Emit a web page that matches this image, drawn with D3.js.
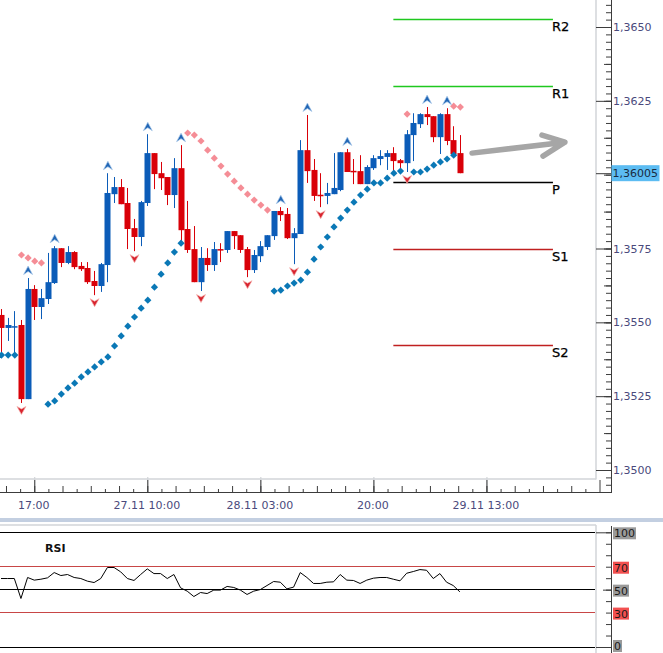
<!DOCTYPE html>
<html><head><meta charset="utf-8">
<script src="https://cdn.jsdelivr.net/npm/d3@7/dist/d3.min.js"></script>
<style>
html,body{margin:0;padding:0;background:#fff;overflow:hidden}
svg{display:block}
text{font-family:"DejaVu Sans",sans-serif}
</style></head><body>
<script>
const opens=[1.35525,1.35481,1.35485,1.35491,1.35240,1.35613,1.35552,1.35579,1.35633,1.35751,
1.35701,1.35738,1.35691,1.35684,1.35640,1.35623,1.35694,1.35934,1.35958,1.35904,
1.35819,1.35789,1.35904,1.36073,1.36005,1.35992,1.35931,1.36022,1.35816,1.35748,
1.35636,1.35718,1.35694,1.35748,1.35745,1.35809,1.35795,1.35748,1.35677,1.35724,
1.35755,1.35792,1.35877,1.35867,1.35785,1.35799,1.36083,1.36016,1.35932,1.35928,
1.35934,1.35948,1.36076,1.36013,1.36012,1.35968,1.36022,1.36053,1.36060,1.36073,
1.36049,1.36039,1.36134,1.36171,1.36205,1.36198,1.36127,1.36205,1.36117,1.36073];
const closes=[1.35481,1.35491,1.35487,1.35240,1.35613,1.35552,1.35582,1.35636,1.35751,1.35701,
1.35738,1.35687,1.35680,1.35636,1.35623,1.35697,1.35938,1.35958,1.35900,1.35816,
1.35789,1.35907,1.36073,1.36002,1.35988,1.35931,1.36022,1.35812,1.35745,1.35636,
1.35718,1.35694,1.35748,1.35745,1.35809,1.35792,1.35745,1.35677,1.35728,1.35758,
1.35795,1.35877,1.35863,1.35785,1.35802,1.36083,1.36012,1.35928,1.35930,1.35938,
1.35955,1.36076,1.36009,1.36011,1.35968,1.36026,1.36056,1.36063,1.36073,1.36046,
1.36039,1.36137,1.36175,1.36205,1.36195,1.36127,1.36205,1.36114,1.36070,1.36005];
const highs=[1.35545,1.35515,1.35538,1.35508,1.35650,1.35626,1.35613,1.35735,1.35758,1.35751,
1.35758,1.35741,1.35704,1.35704,1.35674,1.35701,1.36005,1.35992,1.35985,1.35955,
1.35850,1.35911,1.36137,1.36073,1.36043,1.35992,1.36056,1.36100,1.35911,1.35826,
1.35755,1.35751,1.35772,1.35768,1.35809,1.35809,1.35795,1.35755,1.35745,1.35775,
1.35795,1.35877,1.35890,1.35887,1.35819,1.36117,1.36202,1.36053,1.36005,1.35972,
1.36073,1.36076,1.36087,1.36053,1.36066,1.36032,1.36066,1.36083,1.36083,1.36093,
1.36053,1.36151,1.36208,1.36208,1.36229,1.36198,1.36208,1.36225,1.36164,1.36134];
const lows=[1.35396,1.35437,1.35396,1.35227,1.35240,1.35508,1.35511,1.35562,1.35630,1.35687,
1.35697,1.35680,1.35674,1.35630,1.35592,1.35603,1.35636,1.35904,1.35900,1.35748,
1.35741,1.35758,1.35894,1.35951,1.35948,1.35897,1.35887,1.35775,1.35735,1.35636,
1.35606,1.35674,1.35674,1.35704,1.35735,1.35748,1.35735,1.35653,1.35667,1.35704,
1.35745,1.35779,1.35843,1.35782,1.35697,1.35799,1.35972,1.35911,1.35890,1.35900,
1.35934,1.35944,1.36009,1.35968,1.35968,1.35968,1.36016,1.36032,1.36016,1.36012,
1.36012,1.36009,1.36046,1.36158,1.36168,1.36110,1.36070,1.36100,1.36066,1.36005];
const sarBelow=[1.35389,1.35389,1.35389,null,null,null,null,
1.35223,1.35234,1.35257,1.35278,1.35294,1.35315,1.35332,1.35349,1.35366,1.35383,1.35420,1.35454,1.35487,1.35518,1.35548,1.35575,1.35619,1.35663,1.35701,1.35738,1.35768,
null,null,null,null,null,null,null,null,null,null,null,null,null,
1.35606,1.35609,1.35623,1.35633,1.35643,1.35670,1.35714,1.35755,1.35789,1.35823,1.35853,1.35880,1.35907,1.35931,1.35951,1.35972,1.35972,1.35988,1.36005,1.36012,
null,1.36009,1.36009,1.36019,1.36032,1.36043,1.36053,1.36066,null];
const sarAbove=[null,null,null,1.35728,1.35718,1.35707,1.35701,
null,null,null,null,null,null,null,null,null,null,null,null,null,null,null,null,null,null,null,null,null,
1.36141,1.36134,1.36114,1.36083,1.36056,1.36029,1.36002,1.35978,1.35955,1.35934,1.35914,1.35897,1.35880,
null,null,null,null,null,null,null,null,null,null,null,null,null,null,null,null,null,null,null,null,
1.36205,null,null,null,null,null,null,1.36232,1.36229];
const fractalUp=[4,8,16,22,27,42,46,52,64,67];
const fractalDown=[3,14,20,30,37,44,48,61];
const rsiValues=[59.7,59.7,59.7,42.3,60.6,58.3,59.1,60.3,64.9,62.3,63.2,60.6,59.7,57.4,56.2,59.7,69.3,69.3,65.5,59.7,
58,63.2,68.1,64,64,59.7,63.2,51.6,48.7,44,47.5,46.6,49.6,49.6,52.8,51.9,49.6,45.8,48.7,50.1,
53.6,57.1,56.5,50.7,52.2,64.9,60.6,55.4,55.4,56.5,56.8,63.2,58.3,58,55.4,58.3,60,60.6,60.6,59.1,
57.7,64.3,65.8,67.5,66.9,59.7,64,56.5,53.6,48.1];
const pivotNames=["R2","R1","P","S1","S2"];
const pivotValues=[1.36527,1.36300,1.35975,1.35748,1.35423];
const pivotColors=["#1fc81f","#1fc81f","#000000","#c02020","#c02020"];
const pivotSpan=[59,83];
const priceTicks=[1.3500,1.3525,1.3550,1.3575,1.3625,1.3650];
const lastQuote=1.36005;
const timeTickIndex=[5,22,39,56,73];
const timeTickLabels=["17:00","27.11 10:00","28.11 03:00","20:00","29.11 13:00"];
const rsiLevels=[100,70,50,30,0];
const rsiLevelColors=["#000","#c84646","#000","#c84646","#000"];
const rsiTagColors=["#9a9a9a","#f25050","#9a9a9a","#f25050","#9a9a9a"];
const arrowX=[70.83,84.8,81.35,81.5];
const arrowP=[1.36073,1.36110,1.36134,1.36063];

const W=663,H=653;
const svg=d3.select("body").append("svg").attr("width",W).attr("height",H);
const x=d3.scaleLinear().domain([0,1]).range([1,7.65]);
const y=d3.scaleLinear().domain([1.35,1.365]).range([470,27]);
const rsiY=d3.scaleLinear().domain([0,100]).range([647,532.3]);
const red="#d90008",blue="#0b5cb8";
const idx=d3.range(opens.length);
const axisX=611,plotR=596,plotB=479,timeY=492;

svg.append("defs").append("clipPath").attr("id","plot").append("rect")
  .attr("x",0).attr("y",0).attr("width",plotR).attr("height",plotB);
const plot=svg.append("g").attr("clip-path","url(#plot)");

// pivots
plot.selectAll("line.pivot").data(pivotValues).join("line")
  .attr("x1",x(pivotSpan[0])).attr("x2",x(pivotSpan[1]))
  .attr("y1",d=>Math.floor(y(d))+.5).attr("y2",d=>Math.floor(y(d))+.5)
  .attr("stroke",(d,i)=>pivotColors[i]).attr("stroke-width",1.3);
plot.selectAll("text.pivot").data(pivotValues).join("text")
  .attr("x",x(pivotSpan[1])-1).attr("y",d=>y(d)+7).attr("dy",".36em")
  .attr("font-size",13).attr("fill","#000").attr("stroke","#000").attr("stroke-width",.25)
  .text((d,i)=>pivotNames[i]);

// candles
const candle=plot.selectAll("g.c").data(idx).join("g")
  .attr("fill",i=>closes[i]>=opens[i]?blue:red)
  .attr("stroke",i=>closes[i]>=opens[i]?blue:red);
candle.append("line")
  .attr("x1",i=>Math.round(x(i))+.5).attr("x2",i=>Math.round(x(i))+.5)
  .attr("y1",i=>y(highs[i])).attr("y2",i=>y(lows[i])).attr("stroke-width",1);
candle.append("rect").attr("stroke","none")
  .attr("x",i=>Math.round(x(i))-2.5).attr("width",6)
  .attr("y",i=>y(Math.max(opens[i],closes[i])))
  .attr("height",i=>Math.max(1.5,Math.abs(y(opens[i])-y(closes[i]))));

// SAR
const diamond="M0,-3.6 L3.6,0 L0,3.6 L-3.6,0Z";
[[sarBelow,"#0a78b6"],[sarAbove,"#f58d96"]].forEach(([arr,col])=>{
  plot.selectAll(null).data(idx.filter(i=>arr[i]!=null)).join("path")
    .attr("d",diamond).attr("fill",col)
    .attr("transform",i=>`translate(${x(i)+.5},${y(arr[i])})`);
});

// fractals
const upShape="M0,-5 L4.5,3.5 L0,0.5 L-4.5,3.5Z", downShape="M0,4.5 L-4.5,-3.5 L0,-1 L4.5,-3.5Z";
plot.selectAll(null).data(fractalUp).join("path").attr("d",upShape)
  .attr("fill","#2166b5").attr("stroke","#a9c9ea").attr("stroke-width",.7)
  .attr("transform",i=>`translate(${x(i)+.5},${y(highs[i])-7})`);
plot.selectAll(null).data(fractalDown).join("path").attr("d",downShape)
  .attr("fill","#d8232e").attr("stroke","#f5b5b0").attr("stroke-width",.7)
  .attr("transform",i=>`translate(${x(i)+.5},${y(lows[i])+7})`);

// arrow
const arrowPt=i=>[x(arrowX[i]),y(arrowP[i])];
const lineGen=d3.line();
plot.append("path").attr("fill","none").attr("stroke","#a6a6a6").attr("stroke-width",5.5)
  .attr("stroke-linecap","round").attr("stroke-linejoin","round")
  .attr("d",lineGen([arrowPt(0),arrowPt(1)])+lineGen([arrowPt(2),arrowPt(1),arrowPt(3)]));

// borders
const border="#d2d4d8";
const style=g=>{g.selectAll("path.domain").remove();g.selectAll("line").attr("stroke","#3c3c3c");};
const step=17/8;
const allT=d3.range(-2,40).map(k=>5+k*step);
svg.append("g").attr("transform",`translate(0,${timeY})`)
  .call(d3.axisTop(x).tickValues(timeTickIndex).tickSize(15).tickFormat(""))
  .call(g=>{g.selectAll("path.domain").remove();g.selectAll("line").attr("stroke","#c8ccd0");});
svg.append("line").attr("x1",plotR).attr("x2",plotR).attr("y1",0).attr("y2",plotB+.5).attr("stroke",border).attr("stroke-width",1.5);
svg.append("line").attr("x1",0).attr("x2",plotR).attr("y1",plotB).attr("y2",plotB).attr("stroke",border).attr("stroke-width",1.5);

// price axis
const minorP=d3.range(1.3495,1.36601,.00025);
svg.append("g").attr("transform",`translate(${axisX},0)`)
  .call(d3.axisLeft(y).tickValues(minorP).tickSize(5).tickFormat("")).call(style);
svg.append("g").attr("transform",`translate(${axisX},0)`)
  .call(d3.axisLeft(y).tickValues(d3.range(1,13).map(k=>1.34875+k*.00125)).tickSize(7).tickFormat("")).call(style);
svg.append("g").attr("transform",`translate(${axisX},0)`)
  .call(d3.axisLeft(y).tickValues(priceTicks.concat([lastQuote])).tickSize(15).tickFormat("")).call(style);
svg.append("line").attr("x1",axisX+.5).attr("x2",axisX+.5).attr("y1",0).attr("y2",timeY+.5).attr("stroke","#3c3c3c");
svg.append("g").attr("transform",`translate(${axisX},0)`)
  .call(d3.axisRight(y).tickValues(priceTicks).tickSize(0).tickPadding(2).tickFormat(d=>d.toFixed(4).replace(".",",")))
  .call(g=>{g.select("path.domain").remove();g.selectAll("text").attr("font-size",11).attr("fill","#4a4a7c").attr("font-family",'"DejaVu Sans"');});
svg.append("rect").attr("x",axisX+.5).attr("y",y(lastQuote)-8).attr("width",48).attr("height",16).attr("fill","#5cbcf2");
svg.append("text").attr("x",axisX+1.5).attr("y",y(lastQuote)).attr("dy",".36em").attr("font-size",11).attr("fill","#1a2a40")
  .text(lastQuote.toFixed(5).replace(".",","));

// time axis
svg.append("line").attr("x1",0).attr("x2",axisX+1).attr("y1",timeY+.5).attr("y2",timeY+.5).attr("stroke","#3c3c3c");
const tAxis=(vals,size)=>svg.append("g").attr("transform",`translate(0,${timeY})`)
  .call(d3.axisTop(x).tickValues(vals).tickSize(size).tickFormat("")).call(style);
tAxis(allT.filter((d,k)=>k%2===1),3);
tAxis(allT.filter((d,k)=>k%2===0),6);
tAxis(timeTickIndex.concat([90]),12);
svg.append("g").attr("transform",`translate(-1,${timeY})`)
  .call(d3.axisBottom(x).tickValues(timeTickIndex).tickSize(0).tickPadding(9).tickFormat((d,i)=>timeTickLabels[i]))
  .call(g=>{g.select("path.domain").remove();g.selectAll("text").attr("font-size",11).attr("fill","#4a4a7c").attr("font-family",'"DejaVu Sans"');});

// divider
svg.append("rect").attr("x",0).attr("y",518).attr("width",W).attr("height",4).attr("fill","#c3cfe1");
svg.append("line").attr("x1",0).attr("x2",plotR).attr("y1",525).attr("y2",525).attr("stroke",border).attr("stroke-width",1.5);
svg.append("line").attr("x1",plotR).attr("x2",plotR).attr("y1",525).attr("y2",H).attr("stroke",border).attr("stroke-width",1.5);

// RSI panel
svg.selectAll("line.lvl").data(rsiLevels).join("line").attr("class","lvl")
  .attr("x1",0).attr("x2",plotR-1)
  .attr("y1",d=>Math.floor(rsiY(d))+.5).attr("y2",d=>Math.floor(rsiY(d))+.5)
  .attr("stroke",(d,i)=>rsiLevelColors[i]);
svg.append("path").attr("fill","none").attr("stroke","#000").attr("stroke-width",1)
  .attr("d",d3.line().x((d,i)=>x(i)).y(d=>rsiY(d))(rsiValues));
svg.append("text").attr("x",45).attr("y",552).attr("font-size",11).attr("font-weight","bold")
  .attr("font-family",'"Liberation Sans"').attr("fill","#111").text("RSI");
svg.append("line").attr("x1",axisX+.5).attr("x2",axisX+.5).attr("y1",526).attr("y2",H).attr("stroke","#3c3c3c");
svg.append("g").attr("transform",`translate(${axisX},0)`)
  .call(d3.axisLeft(rsiY).tickValues(d3.range(0,101,10)).tickSize(5).tickFormat("")).call(style);
svg.append("g").attr("transform",`translate(${axisX},0)`)
  .call(d3.axisLeft(rsiY).tickValues([50]).tickSize(8).tickFormat("")).call(style);
svg.append("g").attr("transform",`translate(${axisX},0)`)
  .call(d3.axisLeft(rsiY).tickValues([0,100]).tickSize(15).tickFormat("")).call(style);
const tags=svg.append("g").selectAll("g").data(rsiLevels).join("g")
  .attr("transform",d=>`translate(${axisX+2},${Math.min(rsiY(d)+1,646)})`);
tags.append("text").attr("x",1).attr("dy",".36em").attr("font-size",11).attr("fill","#1a1a1a")
  .text(d=>d);
tags.each(function(d,i){
  const g=d3.select(this),w=g.select("text").node().getComputedTextLength();
  g.insert("rect","text").attr("x",0).attr("y",-6).attr("width",w+2).attr("height",12).attr("fill",rsiTagColors[i]);
});
</script>
</body></html>
